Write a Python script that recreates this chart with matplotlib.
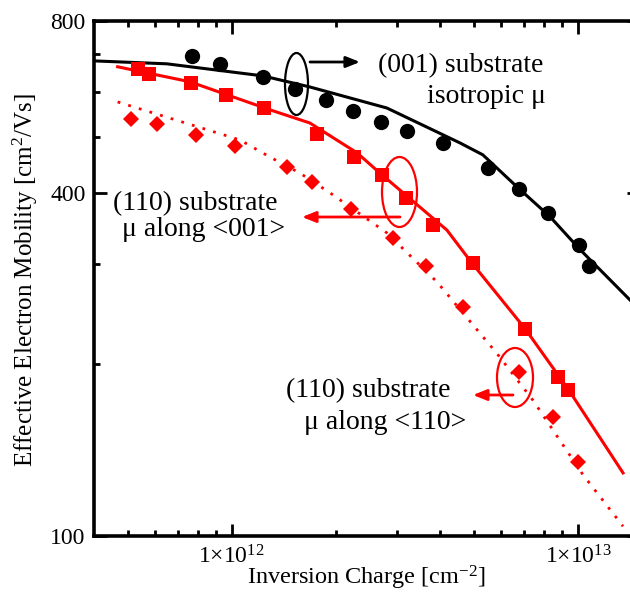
import matplotlib
matplotlib.use("Agg")
import matplotlib.pyplot as plt
from matplotlib.patches import Ellipse
from matplotlib.transforms import IdentityTransform
from matplotlib.ticker import NullFormatter, FixedLocator

plt.rcParams['font.family'] = ['Liberation Serif', 'DejaVu Serif']
plt.rcParams['mathtext.fontset'] = 'custom'
plt.rcParams['mathtext.rm'] = 'Liberation Serif'
plt.rcParams['mathtext.it'] = 'Liberation Serif:italic'
plt.rcParams['mathtext.bf'] = 'Liberation Serif:bold'

# ---------------- data ----------------
# (001) substrate, isotropic mobility: measured (circles) and simulated (line)
circ_x = [7.66e11, 9.27e11, 1.23e12, 1.52e12, 1.87e12, 2.24e12, 2.70e12, 3.21e12,
          4.07e12, 5.50e12, 6.75e12, 8.19e12, 1.007e13, 1.076e13]
circ_y = [695, 672, 639, 608, 582, 557, 532, 513, 488, 442, 406, 369, 324, 298]
blk_x = [4.0e11, 6.49e11, 1.229e12, 1.68e12, 2.805e12, 4.56e12, 5.31e12, 6.65e12,
         8.30e12, 1.013e13, 1.5e13]
blk_y = [681, 673, 641, 613, 563, 489, 466, 410, 363, 318, 250]

# (110) substrate, mobility along <001>: squares + solid line
sq_x = [5.35e11, 5.75e11, 7.61e11, 9.61e11, 1.237e12, 1.761e12, 2.253e12, 2.714e12,
        3.184e12, 3.81e12, 4.97e12, 7.03e12, 8.75e12, 9.36e12]
sq_y = [660, 646, 623, 594, 563, 507, 462, 430, 392, 351, 301, 231, 190, 180]
red_x = [4.68e11, 7.56e11, 1.288e12, 1.68e12, 2.298e12, 2.677e12, 4.18e12, 4.94e12,
         7.03e12, 9.42e12, 1.349e13]
red_y = [665, 626, 559, 530, 470, 433, 344, 301, 231, 180, 129]

# (110) substrate, mobility along <110>: diamonds + dotted line
dia_x = [5.11e11, 6.07e11, 7.87e11, 1.02e12, 1.442e12, 1.703e12, 2.208e12, 2.92e12,
         3.637e12, 4.65e12, 6.75e12, 8.47e12, 1.0e13]
dia_y = [539, 528, 505, 483, 444, 418, 375, 333, 298, 252, 194, 162, 135]
dot_x = [4.68e11, 1.055e12, 1.288e12, 1.572e12, 1.919e12, 2.805e12, 3.913e12, 5.83e12,
         7.41e12, 1.034e13, 1.349e13]
dot_y = [577, 495, 462, 433, 400, 340, 279, 209, 173, 128, 104]

y_major = [100, 400, 800]
y_major_labels = ['100', '400', '800']
y_minor = [200, 300, 500, 600, 700]
x_major = [1e12, 1e13]
x_major_labels = [r'$\mathregular{1×10^{12}}$', r'$\mathregular{1×10^{13}}$']
x_minor = [5e11, 6e11, 7e11, 8e11, 9e11, 2e12, 3e12, 4e12, 5e12, 6e12, 7e12, 8e12, 9e12]

# ---------------- figure ----------------
W, H = 630, 592
fig = plt.figure(figsize=(W / 100, H / 100), dpi=100)
ax = fig.add_axes([94 / W, 56 / H, 545 / W, 515 / H])
ax.set_xscale('log')
ax.set_yscale('log')
ax.set_xlim(4e11, 1.5e13)
ax.set_ylim(100, 800)

red = '#ff0000'
ax.plot(blk_x, blk_y, color='black', lw=2.2, zorder=2)
ax.plot(red_x, red_y, color=red, lw=2.2, zorder=2)
ax.plot(dot_x, dot_y, color=red, lw=2.0, ls=(0, (1, 3)), zorder=2)
ax.plot(circ_x, circ_y, 'o', color='black', ms=11, mew=0, zorder=3)
ax.plot(sq_x, sq_y, 's', color=red, ms=10.5, mew=0, zorder=3)
ax.plot(dia_x, dia_y, 'D', color=red, ms=7.8, mew=0, zorder=3)

ax.yaxis.set_major_locator(FixedLocator(y_major))
ax.set_yticklabels(y_major_labels)
ax.yaxis.set_minor_locator(FixedLocator(y_minor))
ax.yaxis.set_minor_formatter(NullFormatter())
ax.xaxis.set_major_locator(FixedLocator(x_major))
ax.set_xticklabels(x_major_labels)
ax.xaxis.set_minor_locator(FixedLocator(x_minor))
ax.xaxis.set_minor_formatter(NullFormatter())

ax.tick_params(which='both', direction='in', top=True, right=True, width=2, labelsize=17)
ax.tick_params(which='major', length=9)
ax.tick_params(which='minor', length=4.5)
ax.tick_params(axis='x', which='major', pad=7)
ax.tick_params(axis='y', which='major', pad=6)
for s in ax.spines.values():
    s.set_linewidth(2.6)

ax.set_xlabel(r'Inversion Charge [cm$^{\mathregular{-2}}$]', fontsize=17.5)
ax.set_ylabel(r'Effective Electron Mobility [cm$^{\mathregular{2}}$/Vs]', fontsize=18)
ax.xaxis.set_label_coords((366 - 94) / 545, (536 - 564) / 515)
ax.yaxis.set_label_coords((40 - 94) / 545, (536 - 280) / 515)


def fpx(x, y):
    return x / W, 1 - y / H


def label(x, y, s, color='black'):
    fig.text(*fpx(x, y), s, ha='center', va='baseline', fontsize=20, color=color)


label(461, 72, '(001) substrate')
label(486, 103, 'isotropic μ')
label(195, 210, '(110) substrate')
label(204, 236, 'μ along <001>')
label(368, 397, '(110) substrate')
label(385, 429, 'μ along <110>')


def arrow(x0, y0, x1, y1, color):
    fig.add_artist(matplotlib.patches.FancyArrowPatch(
        (x0, H - y0), (x1, H - y1), transform=IdentityTransform(),
        arrowstyle='-|>,head_length=0.55,head_width=0.22', mutation_scale=15,
        lw=2, color=color, shrinkA=0, shrinkB=0))


arrow(310, 62, 360, 62, 'black')
arrow(400, 217, 302, 217, red)
arrow(513, 395, 473, 395, red)


def ell(cx, cy, w, h, color):
    fig.add_artist(Ellipse((cx, H - cy), w, h, transform=IdentityTransform(),
                           fill=False, lw=1.6, edgecolor=color))


ell(296.5, 84, 23, 62, 'black')
ell(399.5, 192, 35, 70, red)
ell(515, 377.5, 36, 59, red)

fig.savefig('out.png', dpi=100)
